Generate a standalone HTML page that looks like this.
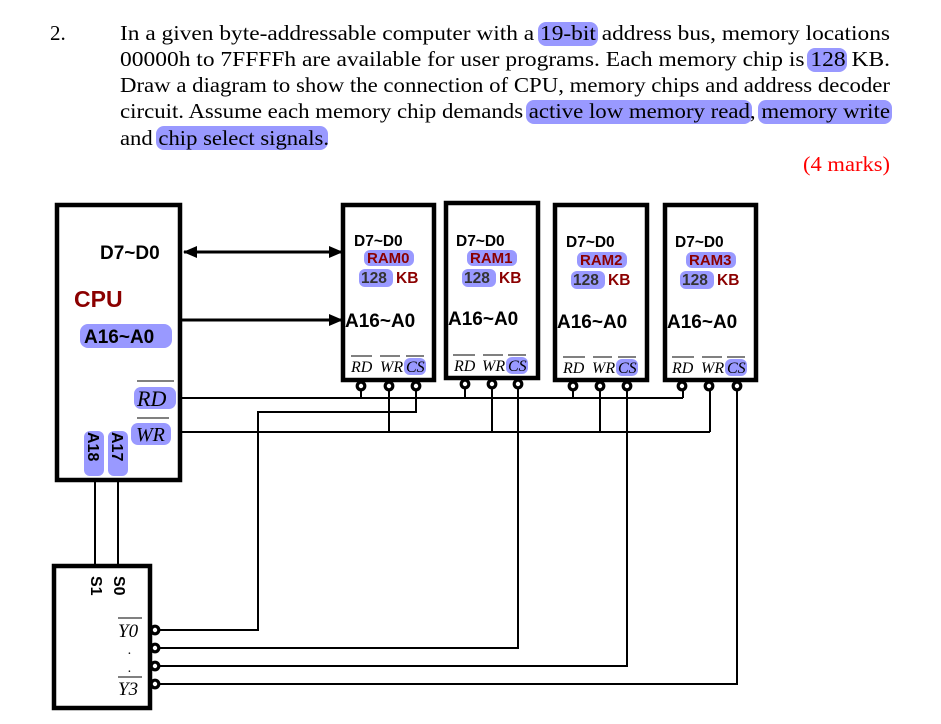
<!DOCTYPE html>
<html><head><meta charset="utf-8"><style>body{margin:0;background:#fff}svg{display:block}</style></head><body>
<svg width="941" height="724" xmlns="http://www.w3.org/2000/svg">
<defs>
<marker id="ah" markerWidth="14" markerHeight="14" refX="13" refY="6" orient="auto" markerUnits="userSpaceOnUse"><path d="M0,0 L14,6 L0,12 z" fill="#000"/></marker>
<marker id="as" markerWidth="14" markerHeight="14" refX="1" refY="6" orient="auto" markerUnits="userSpaceOnUse"><path d="M14,0 L0,6 L14,12 z" fill="#000"/></marker>
</defs>
<g font-family="Liberation Serif, serif" font-size="21" fill="#000">
<text x="50" y="40">2.</text>
<rect x="538" y="22" width="60" height="24" rx="8" fill="#9999ff"/>
<rect x="807" y="48" width="40" height="24" rx="8" fill="#9999ff"/>
<rect x="526" y="100" width="226" height="24" rx="8" fill="#9999ff"/>
<rect x="758" y="100" width="134" height="24" rx="8" fill="#9999ff"/>
<rect x="156" y="126" width="172" height="24" rx="8" fill="#9999ff"/>
<text x="120" y="40" textLength="770" lengthAdjust="spacingAndGlyphs">In a given byte-addressable computer with a 19-bit address bus, memory locations</text>
<text x="120" y="66" textLength="770" lengthAdjust="spacingAndGlyphs">00000h to 7FFFFh are available for user programs. Each memory chip is 128 KB.</text>
<text x="120" y="92" textLength="770" lengthAdjust="spacingAndGlyphs">Draw a diagram to show the connection of CPU, memory chips and address decoder</text>
<text x="120" y="118" textLength="770" lengthAdjust="spacingAndGlyphs">circuit. Assume each memory chip demands active low memory read, memory write</text>
<text x="120" y="145" textLength="209" lengthAdjust="spacingAndGlyphs">and chip select signals.</text>
<text x="803" y="171" fill="#ff0000" textLength="87" lengthAdjust="spacingAndGlyphs">(4 marks)</text>
</g>
<g fill="none" stroke="#000" stroke-width="4.5">
<rect x="57" y="205" width="123" height="275"/>
<rect x="343" y="205" width="91" height="175"/>
<rect x="446" y="203" width="92" height="175"/>
<rect x="555" y="205" width="92" height="175"/>
<rect x="665" y="205" width="91" height="175"/>
<rect x="54" y="566" width="96" height="142"/>
</g>
<g stroke="#000" stroke-width="3">
<line x1="184" y1="252" x2="342" y2="252" marker-end="url(#ah)" marker-start="url(#as)"/>
<line x1="180" y1="320" x2="342" y2="320" marker-end="url(#ah)"/>
</g>
<g stroke="#000" stroke-width="2" fill="none">
<line x1="180" y1="398" x2="683" y2="398"/>
<line x1="180" y1="432" x2="710" y2="432"/>
<polyline points="158,630 258,630 258,412 416,412 416,388"/>
<polyline points="158,648 518,648 518,388"/>
<polyline points="158,666 627,666 627,390"/>
<polyline points="158,684 737,684 737,390"/>
<line x1="361" y1="388" x2="361" y2="398"/><line x1="465" y1="386" x2="465" y2="398"/><line x1="573" y1="390" x2="573" y2="398"/><line x1="683" y1="390" x2="683" y2="398"/>
<line x1="389" y1="388" x2="389" y2="432"/><line x1="492" y1="386" x2="492" y2="432"/><line x1="600" y1="390" x2="600" y2="432"/><line x1="710" y1="390" x2="710" y2="432"/>
<line x1="95" y1="480" x2="95" y2="566"/><line x1="118" y1="480" x2="118" y2="566"/>
</g>
<g fill="#fff" stroke="#000" stroke-width="3.2">
<circle cx="361" cy="386" r="3.8"/><circle cx="389" cy="386" r="3.8"/><circle cx="416" cy="386" r="3.8"/>
<circle cx="465" cy="384" r="3.8"/><circle cx="492" cy="384" r="3.8"/><circle cx="518" cy="384" r="3.8"/>
<circle cx="573" cy="386" r="3.8"/><circle cx="600" cy="386" r="3.8"/><circle cx="627" cy="386" r="3.8"/>
<circle cx="682" cy="386" r="3.8"/><circle cx="709" cy="386" r="3.8"/><circle cx="737" cy="386" r="3.8"/>
<circle cx="155" cy="630" r="3.8"/><circle cx="155" cy="648" r="3.8"/><circle cx="155" cy="666" r="3.8"/><circle cx="155" cy="684" r="3.8"/>
</g>
<g font-family="Liberation Sans, sans-serif" font-weight="bold">
<text x="100" y="259" font-size="19">D7~D0</text>
<text x="74" y="307" font-size="23" fill="#8b0000">CPU</text>
<rect x="80" y="324" width="92" height="24" rx="8" fill="#9999ff"/>
<text x="84" y="343" font-size="19">A16~A0</text>
<rect x="84" y="431" width="20" height="45" rx="6" fill="#9999ff"/>
<rect x="108" y="431" width="20" height="45" rx="6" fill="#9999ff"/>
<text transform="translate(88,432) rotate(90)" font-size="16">A18</text>
<text transform="translate(112,432) rotate(90)" font-size="16">A17</text>
<text transform="translate(91,576) rotate(90)" font-size="16">S1</text>
<text transform="translate(114,576) rotate(90)" font-size="16">S0</text>
</g>
<g font-family="Liberation Serif, serif" font-style="italic">
<rect x="134" y="387" width="42" height="22" rx="7" fill="#9999ff"/>
<line x1="137" y1="381" x2="174" y2="381" stroke="#000" stroke-width="1"/>
<text x="137" y="406" font-size="22">RD</text>
<rect x="131" y="423" width="40" height="22" rx="7" fill="#9999ff"/>
<line x1="137" y1="418" x2="169" y2="418" stroke="#000" stroke-width="1"/>
<text x="136" y="441" font-size="20">WR</text>
<line x1="118" y1="618" x2="142" y2="618" stroke="#000" stroke-width="1"/>
<text x="118" y="637" font-size="19">Y0</text>
<text x="128" y="654" font-size="14">.</text><text x="128" y="672" font-size="14">.</text>
<line x1="118" y1="677" x2="142" y2="677" stroke="#000" stroke-width="1"/>
<text x="118" y="695" font-size="19">Y3</text>
</g>
<g font-family="Liberation Sans, sans-serif" font-weight="bold">
<text x="354" y="246" font-size="15.5">D7~D0</text><rect x="364" y="250" width="50" height="16" rx="6" fill="#9999ff"/><text x="367" y="263" font-size="15" fill="#8b0000">RAM0</text>
<rect x="359" y="269" width="34" height="18" rx="6" fill="#9999ff"/><text x="361" y="283" font-size="15.5" fill="#333">128</text><text x="396" y="283" font-size="15.5" fill="#8b0000">KB</text>
<text x="345" y="327" font-size="19">A16~A0</text>
<text x="456" y="246" font-size="15.5">D7~D0</text><rect x="467" y="250" width="50" height="16" rx="6" fill="#9999ff"/><text x="470" y="263" font-size="15" fill="#8b0000">RAM1</text>
<rect x="462" y="269" width="34" height="18" rx="6" fill="#9999ff"/><text x="464" y="283" font-size="15.5" fill="#333">128</text><text x="499" y="283" font-size="15.5" fill="#8b0000">KB</text>
<text x="448" y="325" font-size="19">A16~A0</text>
<text x="566" y="247" font-size="15.5">D7~D0</text><rect x="577" y="252" width="50" height="16" rx="6" fill="#9999ff"/><text x="580" y="265" font-size="15" fill="#8b0000">RAM2</text>
<rect x="571" y="271" width="34" height="18" rx="6" fill="#9999ff"/><text x="573" y="285" font-size="15.5" fill="#333">128</text><text x="608" y="285" font-size="15.5" fill="#8b0000">KB</text>
<text x="557" y="328" font-size="19">A16~A0</text>
<text x="675" y="247" font-size="15.5">D7~D0</text><rect x="686" y="252" width="50" height="16" rx="6" fill="#9999ff"/><text x="689" y="265" font-size="15" fill="#8b0000">RAM3</text>
<rect x="680" y="271" width="34" height="18" rx="6" fill="#9999ff"/><text x="682" y="285" font-size="15.5" fill="#333">128</text><text x="717" y="285" font-size="15.5" fill="#8b0000">KB</text>
<text x="667" y="328" font-size="19">A16~A0</text>
</g>
<g font-family="Liberation Serif, serif" font-style="italic" font-size="16" stroke-width="1">
<rect x="404" y="358" width="22" height="17" rx="6" fill="#9999ff"/>
<rect x="506" y="357" width="22" height="17" rx="6" fill="#9999ff"/>
<rect x="616" y="359" width="22" height="17" rx="6" fill="#9999ff"/>
<rect x="725" y="359" width="22" height="17" rx="6" fill="#9999ff"/>
<g stroke="#000">
<line x1="351" y1="356" x2="372" y2="356"/><line x1="380" y1="356" x2="400" y2="356"/><line x1="406" y1="356" x2="424" y2="356"/>
<line x1="453" y1="355" x2="475" y2="355"/><line x1="483" y1="355" x2="503" y2="355"/><line x1="508" y1="355" x2="526" y2="355"/>
<line x1="563" y1="357" x2="585" y2="357"/><line x1="593" y1="357" x2="612" y2="357"/><line x1="618" y1="357" x2="636" y2="357"/>
<line x1="672" y1="357" x2="694" y2="357"/><line x1="702" y1="357" x2="722" y2="357"/><line x1="727" y1="357" x2="745" y2="357"/>
</g>
<text x="351" y="372">RD</text><text x="380" y="372">WR</text><text x="406" y="372">CS</text>
<text x="454" y="371">RD</text><text x="482" y="371">WR</text><text x="508" y="371">CS</text>
<text x="563" y="373">RD</text><text x="592" y="373">WR</text><text x="618" y="373">CS</text>
<text x="672" y="373">RD</text><text x="701" y="373">WR</text><text x="727" y="373">CS</text>
</g>
</svg>
</body></html>
